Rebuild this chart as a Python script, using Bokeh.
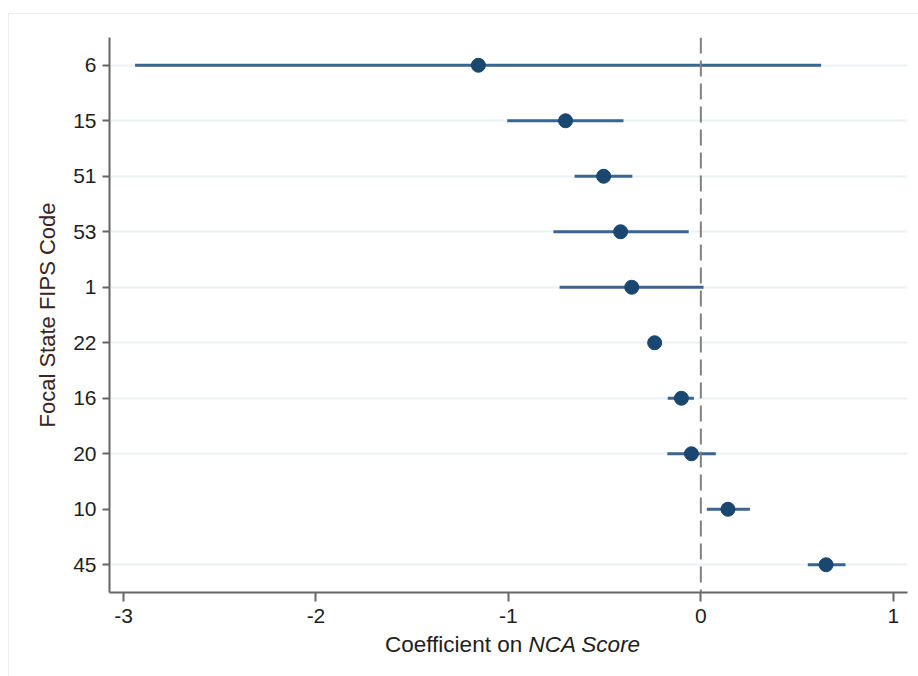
from bokeh.plotting import figure
from bokeh.layouts import column
from bokeh.models import FixedTicker, Span, ColumnDataSource, FactorRange, Range1d, Div
from bokeh.embed import file_html
from bokeh.resources import INLINE

# ---- data ----
states = ["6", "15", "51", "53", "1", "22", "16", "20", "10", "45"]
coef = [-1.156, -0.703, -0.505, -0.417, -0.359, -0.240, -0.101, -0.049, 0.141, 0.651]
ci_low = [-2.94, -1.006, -0.656, -0.766, -0.734, -0.262, -0.172, -0.174, 0.031, 0.556]
ci_high = [0.625, -0.402, -0.356, -0.063, 0.014, -0.218, -0.036, 0.078, 0.255, 0.752]
x_ticks = [-3, -2, -1, 0, 1]
x_tick_labels = ["-3", "-2", "-1", "0", "1"]

src = ColumnDataSource(dict(state=states, coef=coef, lo=ci_low, hi=ci_high))

FONT = "Liberation Sans"
TEXT = "#1e1e1e"

p = figure(
    width=908, height=617,
    y_range=FactorRange(factors=list(reversed(states))),
    x_range=Range1d(-3.073, 1.074),
    output_backend="svg", toolbar_location=None,
    min_border_left=100, min_border_right=10, min_border_top=23, min_border_bottom=39,
    background_fill_color="white", border_fill_color="white",
)
p.outline_line_color = None

# grid
p.xgrid.grid_line_color = None
p.ygrid.grid_line_color = "#eaf2f3"
p.ygrid.grid_line_width = 2

# axes
for ax in (p.xaxis[0], p.yaxis[0]):
    ax.axis_line_color = "#666666"
    ax.axis_line_width = 2
    ax.major_tick_line_color = "#666666"
    ax.major_tick_line_width = 2
    ax.minor_tick_line_color = None
    ax.major_label_text_font = FONT
    ax.major_label_text_font_size = "21px"
    ax.major_label_text_color = TEXT

p.xaxis.ticker = FixedTicker(ticks=x_ticks)
p.xaxis.major_label_overrides = {t: s for t, s in zip(x_ticks, x_tick_labels)}
p.xaxis.major_tick_out = 9
p.xaxis.major_tick_in = 0
p.xaxis.major_label_standoff = 7

p.yaxis.major_tick_out = 7
p.yaxis.major_tick_in = 0
p.yaxis.major_label_standoff = 6
p.yaxis.axis_label = "Focal State FIPS Code"
p.yaxis.axis_label_text_font = FONT
p.yaxis.axis_label_text_font_style = "normal"
p.yaxis.axis_label_text_font_size = "22px"
p.yaxis.axis_label_text_color = "#3a2424"
p.yaxis.axis_label_standoff = 10

# zero reference line
p.add_layout(Span(location=0, dimension="height", line_color="#808080",
                  line_width=2, line_dash="16 7"))

# CIs and points
p.segment(x0="lo", x1="hi", y0="state", y1="state", source=src,
          line_color="#3a6591", line_width=3)
p.scatter(x="coef", y="state", source=src, size=14,
          fill_color="#1a476f", line_color="#1a476f")

# x-axis title (mixed roman / italic) as real HTML text below the plot
xtitle = Div(
    text=("<div style=\"font-family:'Liberation Sans';font-size:22.5px;color:#1e1e1e;"
          "line-height:17px;padding-left:371px;white-space:nowrap;\">"
          "Coefficient on <i>NCA Score</i></div>"),
    width=908, height=44,
)

layout = column(p, xtitle, styles={"margin-left": "8px", "margin-top": "13px",
                                   "border-left": "1px solid #ececec",
                                   "border-top": "1px solid #ececec",
                                   "background-color": "white"})

open("out.html", "w").write(file_html(layout, INLINE))
